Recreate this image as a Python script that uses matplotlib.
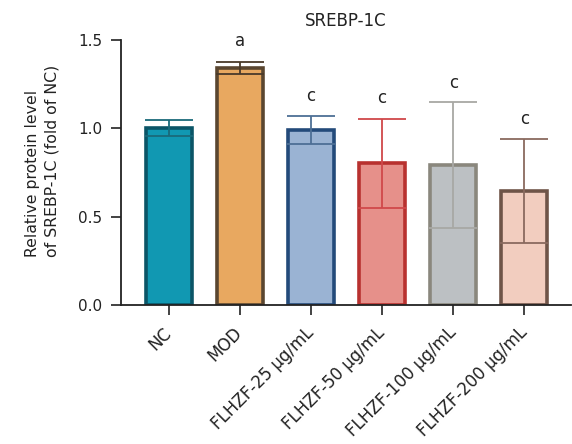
import matplotlib
matplotlib.use("Agg")
import matplotlib.pyplot as plt
import numpy as np

categories = ["NC", "MOD", "FLHZF-25 μg/mL", "FLHZF-50 μg/mL", "FLHZF-100 μg/mL", "FLHZF-200 μg/mL"]
values = [1.00, 1.34, 0.99, 0.80, 0.79, 0.645]
errors = [0.045, 0.035, 0.078, 0.25, 0.355, 0.295]
letters = ["", "a", "c", "c", "c", "c"]
letter_y = [None, 1.493, 1.179, 1.168, 1.255, 1.052]
yticks = [0.0, 0.5, 1.0, 1.5]

fill_colors = ["#1198b2", "#e8a860", "#9ab3d3", "#e6908a", "#bcc0c3", "#f2cdbf"]
edge_colors = ["#0b5567", "#5a4630", "#234a7a", "#b8312f", "#8a877d", "#6f5448"]
err_colors = ["#1a6a7a", "#4a3a2a", "#4d6f95", "#d0484a", "#a8a8a4", "#8a6a5f"]

plt.rcParams['font.family'] = ['DejaVu Sans']
fig = plt.figure(figsize=(5.72, 4.44), dpi=100)
ax = fig.add_axes([0.2115, 0.313, 0.786, 0.598])

x = np.arange(len(categories))
ax.bar(x, values, width=0.65, color=fill_colors, edgecolor=edge_colors, linewidth=2.6, zorder=2)
for i in range(len(categories)):
    ax.errorbar(x[i], values[i], yerr=errors[i], fmt='none', ecolor=err_colors[i],
                elinewidth=1.3, capsize=17, capthick=1.3, zorder=3)
    if letters[i]:
        ax.text(x[i], letter_y[i], letters[i], ha='center', va='center', fontsize=12, color='#222222')

ax.set_ylim(0, 1.5)
ax.set_xlim(-0.67, 5.65)
ax.set_yticks(yticks)
ax.set_yticklabels([f"{v:.1f}" for v in yticks], fontsize=11)
ax.set_xticks(x)
ax.set_xticklabels(categories, rotation=45, ha='right', va='center', rotation_mode='anchor', fontsize=12)
ax.tick_params(axis='both', length=7, width=1.2, color='#222222', labelcolor='#222222')
ax.tick_params(axis='x', pad=11)
ax.tick_params(axis='y', pad=6.5)
for s in ['top', 'right']:
    ax.spines[s].set_visible(False)
for s in ['left', 'bottom']:
    ax.spines[s].set_linewidth(1.3)
    ax.spines[s].set_color('#222222')
ax.set_ylabel("Relative protein level\nof SREBP-1C (fold of NC)", fontsize=11.3, color='#222222',
              multialignment='left', linespacing=1.4)
ax.yaxis.set_label_coords(-0.137, 0.544)
ax.set_title("SREBP-1C", fontsize=12, color='#222222', pad=10)

fig.savefig("out.png", dpi=100)
